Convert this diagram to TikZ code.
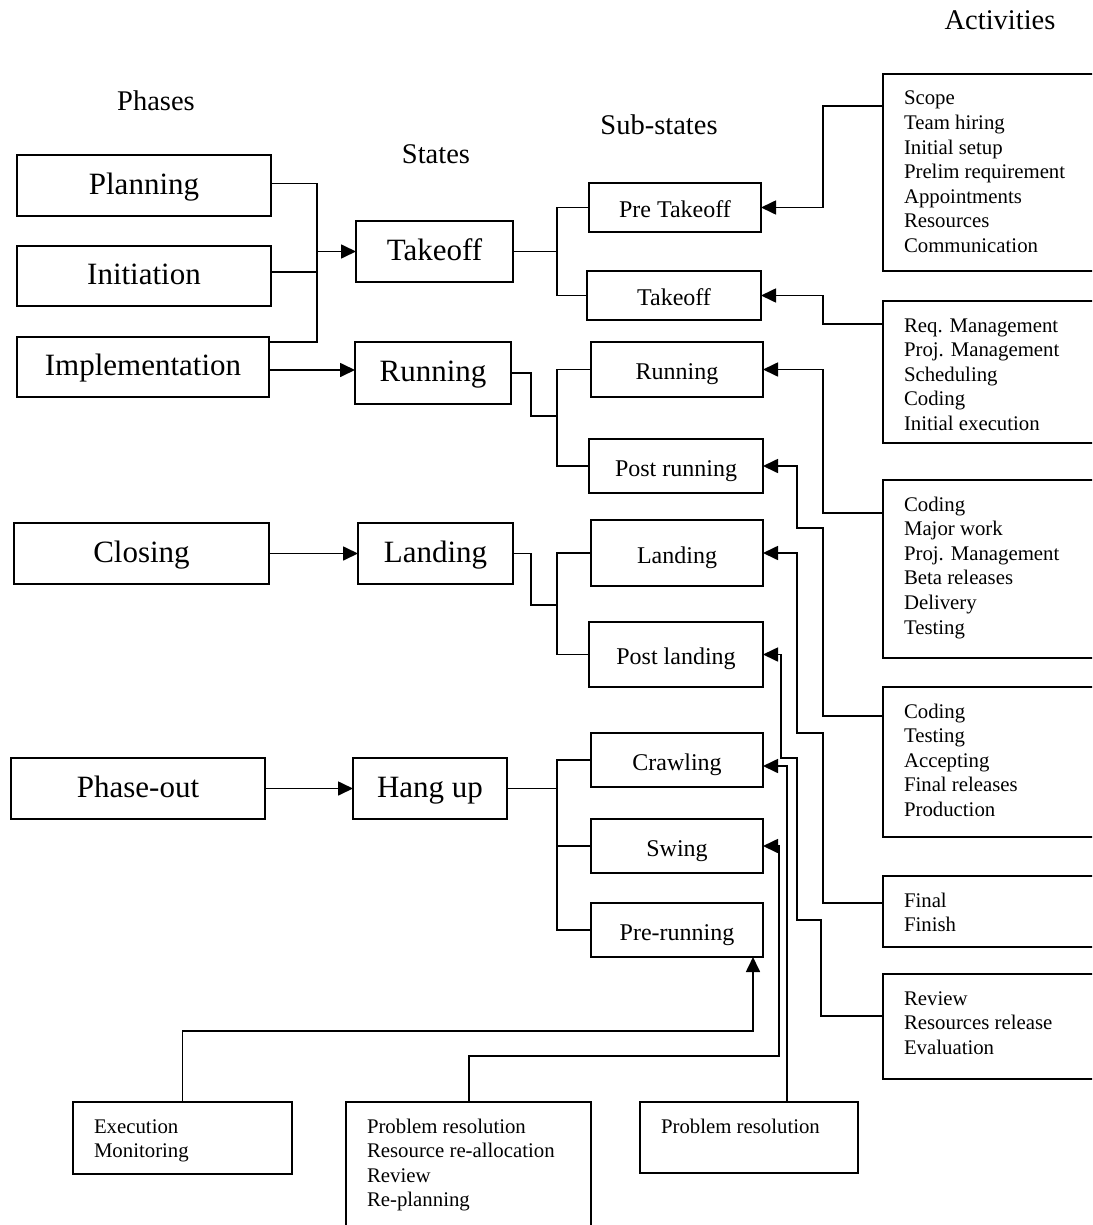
\documentclass[tikz,border=0pt]{standalone}
\usepackage{fontspec}
\setmainfont{Liberation Serif}
\usetikzlibrary{arrows.meta,calc}

% Multi-line list box: fixed height, text set from the top with a left indent
\newcommand{\listbox}[3]{\parbox[c][#1][t]{#2}{\fontsize{20.8}{24.6}\selectfont\raggedright\leftskip=21pt\relax\rule{0pt}{31pt}#3}}

\begin{document}
\begin{tikzpicture}[x=1pt,y=-1pt,
  every node/.style={inner sep=0pt,outer sep=0pt},
  head/.style={font=\fontsize{28.5}{34}\selectfont},
  bigbox/.style={draw,line width=1.7pt,anchor=north west,
    font=\fontsize{31}{37}\selectfont,text height=23pt,text depth=5.8pt},
  subbox/.style={draw,line width=1.7pt,anchor=north west,
    font=\fontsize{24}{29}\selectfont,text height=26pt,text depth=5.1pt},
  listnode/.style={draw,line width=1.7pt,anchor=north west},
  conn/.style={line width=1.7pt},
  arr/.style={conn,-{Triangle[length=15pt,width=14pt]}}]

\useasboundingbox (0,0) rectangle (1092,1225);
\fill[white] (0,0) rectangle (1092,1225);
\clip (0,0) rectangle (1092,1225);

% column headings
\node[head] (hph) at (156,101) {Phases};
\node[head] (hst) at (436,154) {States};
\node[head] (hss) at (659,125) {Sub-states};
\node[head] (hac) at (1000,20) {Activities};

% phases
\node[bigbox,minimum width=254pt,minimum height=61pt] (plan) at (17,155) {Planning};
\node[bigbox,minimum width=254pt,minimum height=60pt] (init) at (17,246) {Initiation};
\node[bigbox,minimum width=252pt,minimum height=60pt] (impl) at (17,337) {Implementation};
\node[bigbox,minimum width=255pt,minimum height=61pt] (clos) at (14,523) {Closing};
\node[bigbox,minimum width=254pt,minimum height=61pt] (phout) at (11,758) {Phase-out};

% states
\node[bigbox,minimum width=157pt,minimum height=61pt] (tko) at (356,221) {Takeoff};
\node[bigbox,minimum width=156pt,minimum height=62pt] (runs) at (355,342) {Running};
\node[bigbox,minimum width=155pt,minimum height=61pt] (lnds) at (358,523) {Landing};
\node[bigbox,minimum width=154pt,minimum height=61pt] (hang) at (353,758) {Hang up};

% sub-states
\node[subbox,minimum width=172pt,minimum height=49pt] (pretk) at (589,183) {Pre Takeoff};
\node[subbox,minimum width=174pt,minimum height=49pt] (stk) at (587,271) {Takeoff};
\node[subbox,minimum width=172pt,minimum height=55pt] (srun) at (591,342) {Running};
\node[subbox,minimum width=174pt,minimum height=54pt] (spr) at (589,439) {Post running};
\node[subbox,minimum width=172pt,minimum height=66pt] (sland) at (591,520) {Landing};
\node[subbox,minimum width=174pt,minimum height=65pt] (spl) at (589,622) {Post landing};
\node[subbox,minimum width=172pt,minimum height=54pt] (crawl) at (591,733) {Crawling};
\node[subbox,minimum width=172pt,minimum height=54pt] (swing) at (591,819) {Swing};
\node[subbox,minimum width=172pt,minimum height=54pt] (prer) at (591,903) {Pre-running};

% activity lists
\node[listnode] (a1) at (883,74) {\listbox{197pt}{217pt}{Scope\\Team hiring\\Initial setup\\Prelim requirement\\Appointments\\Resources\\Communication}};
\node[listnode] (a2) at (883,301) {\listbox{142pt}{217pt}{Req. Management\\Proj. Management\\Scheduling\\Coding\\Initial execution}};
\node[listnode] (a3) at (883,480) {\listbox{178pt}{217pt}{Coding\\Major work\\Proj. Management\\Beta releases\\Delivery\\Testing}};
\node[listnode] (a4) at (883,687) {\listbox{150pt}{217pt}{Coding\\Testing\\Accepting\\Final releases\\Production}};
\node[listnode] (a5) at (883,876) {\listbox{71pt}{217pt}{Final\\Finish}};
\node[listnode] (a6) at (883,974) {\listbox{105pt}{217pt}{Review\\Resources release\\Evaluation}};

\node[listnode] (b1) at (73,1102) {\listbox{72pt}{219pt}{Execution\\Monitoring}};
\node[listnode] (b2) at (346,1102) {\listbox{140pt}{245pt}{Problem resolution\\Resource re-allocation\\Review\\Re-planning}};
\node[listnode] (b3) at (640,1102) {\listbox{71pt}{218pt}{Problem resolution}};

% phases -> states
\coordinate (pb) at ($(tko.west)+(-39,0)$);
\draw[conn] ($(plan.east)+(0,-2)$) -| (pb) |- ($(impl.north east)+(0,5)$);
\draw[conn] ($(init.east)+(0,-4)$) coordinate (ie) -- (ie -| pb);
\draw[arr] (pb) -- (tko.west);
\draw[arr] ($(impl.east)+(0,3)$) coordinate (me) -- (me -| runs.west);
\draw[arr] (clos.east) -- (lnds.west);
\draw[arr] (phout.east) -- (hang.west);

% states -> sub-states
\coordinate (sbA) at ($(tko.east)+(44,0)$);
\draw[conn] (tko.east) -- (sbA);
\draw[conn] (pretk.west) -| (sbA) |- (stk.west);

\coordinate (sbB) at (557,416);
\draw[conn] (runs.east) -- ++(20,0) |- (sbB);
\draw[conn] (srun.west) -| (sbB) |- (spr.west);

\coordinate (sbC) at (557,605);
\draw[conn] (lnds.east) -- ++(18,0) |- (sbC);
\draw[conn] (sland.west) -| (sbC) |- (spl.west);

\coordinate (sbD) at ($(hang.east)+(50,0)$);
\draw[conn] (hang.east) -- (sbD);
\draw[conn] (crawl.west) -| (sbD) |- (prer.west);
\draw[conn] (swing.west) -- (swing.west -| sbD);

% activities -> sub-states
\draw[arr] ($(a1.north west)+(0,32)$) -- ++(-60,0) |- (pretk.east);
\draw[arr] ($(a2.north west)+(0,23)$) -- ++(-60,0) |- (stk.east);
\draw[arr] ($(a3.north west)+(0,33)$) -- ++(-60,0) |- (srun.east);
\draw[arr] ($(a4.north west)+(0,29)$) -- ++(-60,0) -- ++(0,-188) -- ++(-26,0) |- (spr.east);
\draw[arr] ($(a5.north west)+(0,27)$) -- ++(-60,0) -- ++(0,-170) -- ++(-26,0) |- (sland.east);
\draw[arr] ($(a6.north west)+(0,42)$) -- ++(-62,0) -- ++(0,-96) -- ++(-24,0) -- ++(0,-162) -- ++(-16,0) |- (spl.east);

% lower activity lists -> hang-up sub-states
\draw[arr] (b1.north) -- ++(0,-71) -| ($(prer.south east)+(-10,0)$);
\draw[arr] ($(b2.north west)+(123,0)$) -- ++(0,-46) -| ($(swing.east)+(16,0)$) -- (swing.east);
\draw[arr] ($(b3.north west)+(147,0)$) |- ($(crawl.east)+(0,6)$);

\end{tikzpicture}
\end{document}
